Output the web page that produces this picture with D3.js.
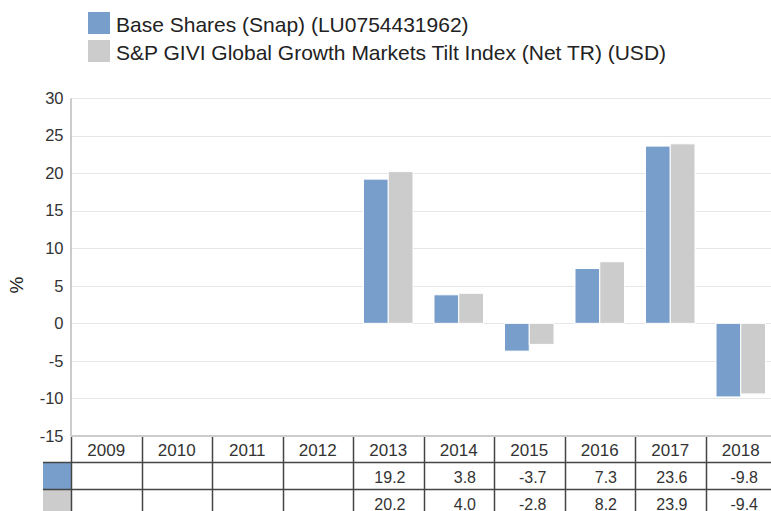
<!DOCTYPE html>
<html>
<head>
<meta charset="utf-8">
<script src="https://cdn.jsdelivr.net/npm/d3@7/dist/d3.min.js"></script>
<style>
  body { margin: 0; background: #fff; }
  svg { font-family: "Liberation Sans", Arial, sans-serif; }
</style>
</head>
<body>
<svg id="chart"></svg>
<script>
const years = ["2009", "2010", "2011", "2012", "2013", "2014", "2015", "2016", "2017", "2018"];
const seriesNames = ["Base Shares (Snap) (LU0754431962)", "S&P GIVI Global Growth Markets Tilt Index (Net TR) (USD)"];
const baseShares = [null, null, null, null, 19.2, 3.8, -3.7, 7.3, 23.6, -9.8];
const indexValues = [null, null, null, null, 20.2, 4.0, -2.8, 8.2, 23.9, -9.4];
const yTicks = [-15, -10, -5, 0, 5, 10, 15, 20, 25, 30];
const colors = ["#789fcc", "#cccccc"];

const W = 771, H = 511;
const plotLeft = 71, plotTop = 98, plotBottom = 436;
const colW = 70.5;

let svg = d3.select("svg#chart").attr("width", W).attr("height", H);

const series = [baseShares, indexValues];

const x = d3.scaleBand().domain(years).range([plotLeft, plotLeft + colW * years.length]).paddingInner(0).paddingOuter(0);
const x1 = d3.scaleBand().domain([0, 1]).range([10.5, colW - 10.5]).padding(0);
const y = d3.scaleLinear().domain([-15, 30]).range([plotBottom, plotTop]);

// legend
seriesNames.forEach((name, i) => {
    const g = svg.append("g").attr("transform", `translate(88,${12 + i * 28})`);
    g.append("rect").attr("width", 22).attr("height", 22).attr("fill", colors[i]);
    g.append("text").attr("x", 28).attr("y", 19.5).attr("font-size", 21).attr("fill", "#222").text(name);
});

// gridlines
svg.append("g").selectAll("line").data(yTicks.filter(t => t > -15)).join("line")
  .attr("x1", plotLeft).attr("x2", W).attr("y1", d => Math.round(y(d)) + 0.5).attr("y2", d => Math.round(y(d)) + 0.5)
  .attr("stroke", "#e6e6e6");

// y axis
const yAxis = svg.append("g").attr("transform", `translate(${plotLeft - 0.5},0)`)
  .call(d3.axisLeft(y).tickValues(yTicks).tickSize(0).tickPadding(7).tickFormat(d => String(d)));
yAxis.select(".domain").attr("stroke", "#999");
yAxis.selectAll("text").attr("font-size", 16.5).attr("fill", "#333").attr("font-family", "Liberation Sans, Arial, sans-serif");

svg.append("text").attr("transform", "translate(23,285) rotate(-90)")
  .attr("text-anchor", "middle").attr("font-size", 19).attr("fill", "#222").text("%");

// bars
series.forEach((vals, s) => {
    svg.append("g").selectAll("rect").data(vals.map((v, i) => ({ v, year: years[i] })).filter(d => d.v !== null))
      .join("rect")
      .attr("x", d => x(d.year) + x1(s))
      .attr("width", x1.bandwidth())
      .attr("y", d => y(Math.max(0, d.v)))
      .attr("height", d => Math.abs(y(d.v) - y(0)))
      .attr("fill", colors[s])
      .attr("stroke", "#fff").attr("stroke-width", 1);
});

// data table
const rowH = 27;
const tableTop = plotBottom;
const table = svg.append("g");
table.append("rect").attr("x", plotLeft).attr("y", tableTop - 1).attr("width", W - plotLeft).attr("height", 2).attr("fill", "#ccc");

// legend swatches in table
series.forEach((vals, s) => {
    table.append("rect").attr("x", 43).attr("y", tableTop + rowH * (s + 1)).attr("width", plotLeft - 43).attr("height", rowH)
      .attr("fill", colors[s]);
});

// horizontal row lines
[1, 2].forEach(r => {
    table.append("line").attr("x1", 43).attr("x2", W)
      .attr("y1", tableTop + rowH * r - 0.5).attr("y2", tableTop + rowH * r - 0.5)
      .attr("stroke", "#444").attr("stroke-width", 1.5);
});

// vertical column lines
years.forEach(yr => {
    const xx = Math.round(x(yr)) + 0.5;
    table.append("line").attr("x1", xx).attr("x2", xx).attr("y1", tableTop + 1).attr("y2", H)
      .attr("stroke", "#444").attr("stroke-width", 1.5);
});

// header
table.selectAll(".yr").data(years).join("text").attr("class", "yr")
  .attr("x", d => x(d) + colW / 2).attr("y", tableTop + 20)
  .attr("text-anchor", "middle").attr("font-size", 17).attr("fill", "#333").text(d => d);

// values
series.forEach((vals, s) => {
    table.append("g").selectAll("text").data(vals.map((v, i) => ({ v, year: years[i] })).filter(d => d.v !== null))
      .join("text")
      .attr("x", d => x(d.year) + colW - 18)
      .attr("y", tableTop + rowH * (s + 1) + 19.5)
      .attr("text-anchor", "end").attr("font-size", 16).attr("fill", "#333")
      .text(d => d.v.toFixed(1));
});
</script>
</body>
</html>
